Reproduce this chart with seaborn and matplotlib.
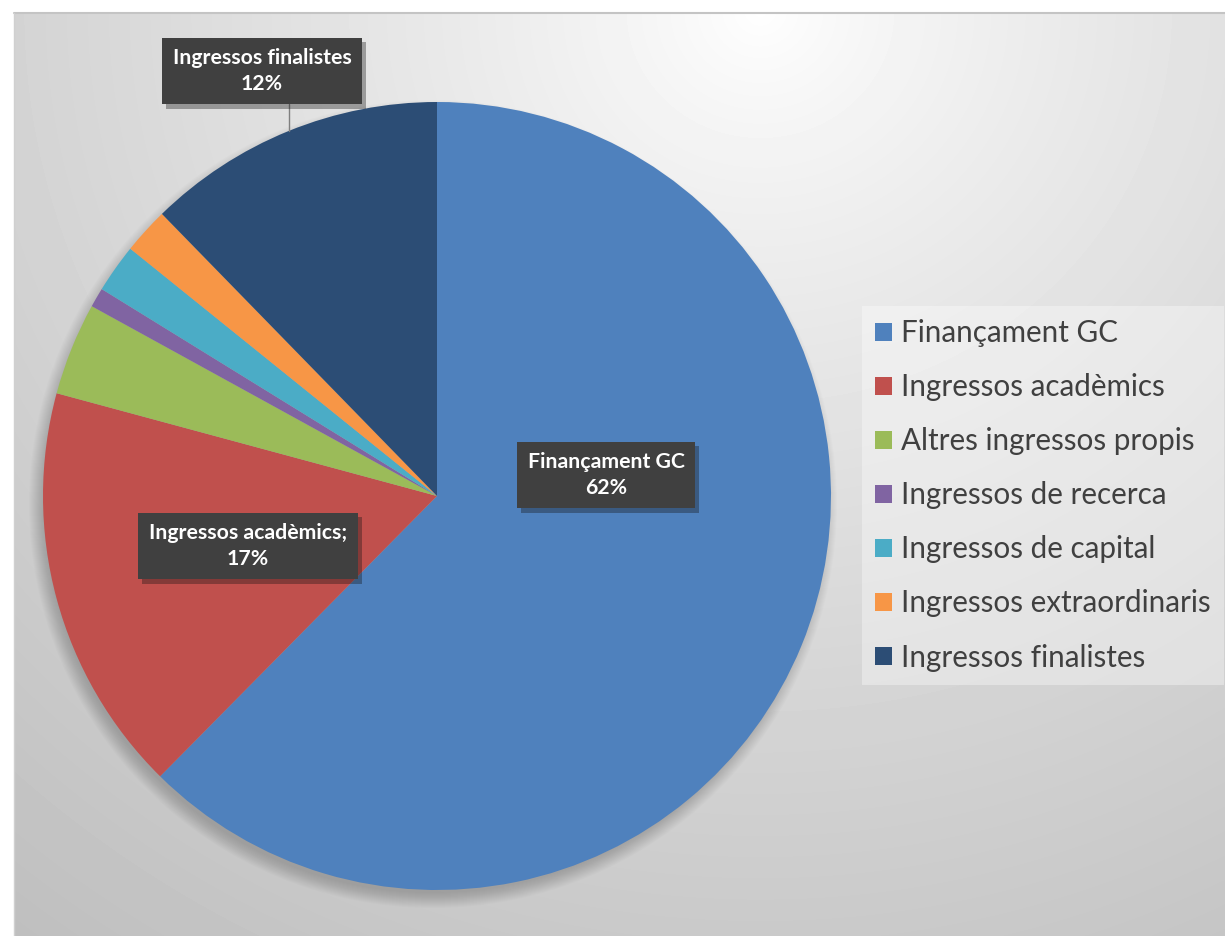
import matplotlib.pyplot as plt
import matplotlib.patheffects as pe
from matplotlib.patches import Patch, Circle
import numpy as np
import seaborn as sns

# data (shares of income, %)
categories = ["Finançament GC", "Ingressos acadèmics", "Altres ingressos propis",
              "Ingressos de recerca", "Ingressos de capital",
              "Ingressos extraordinaris", "Ingressos finalistes"]
shares = [62.4, 16.8, 3.8, 0.8, 2.0, 1.9, 12.3]
palette = ["#4F81BD", "#C0504D", "#9BBB59", "#8064A2", "#4BACC6", "#F79646", "#2C4D75"]
box_labels = {0: "Finançament GC\n62%", 1: "Ingressos acadèmics;\n17%", 6: "Ingressos finalistes\n12%"}

sns.set_theme(style="white")
plt.rcParams['font.family'] = ['Lato', 'DejaVu Sans']

W, H = 1225, 936
fig = plt.figure(figsize=(W / 100, H / 100), dpi=100)
fig.patch.set_facecolor("white")

# background gradient of the chart area
bg = fig.add_axes([14 / W, 0, (W - 14) / W, (H - 13) / H])
yy, xx = np.mgrid[13:H, 14:W]
d = np.sqrt((xx - 760.0) ** 2 + ((yy - 10.0) * 1.05) ** 2)
grad = 1 - 0.24 * (d / 1150) ** 0.8
bg.imshow(grad, cmap="gray", vmin=0, vmax=1, aspect="auto", interpolation="bilinear")
bg.set_axis_off()
fig.add_artist(plt.Line2D([14 / W, 1], [1 - 13 / H] * 2, color="#c4c4c4", lw=1.5))
fig.add_artist(plt.Line2D([14 / W] * 2, [0, 1 - 13 / H], color="#d0d0d0", lw=1))

ax = fig.add_axes([0, 0, 1, 1])
ax.patch.set_alpha(0)
cx, cy, r = 437, H - 496, 394

# soft shadow under the pie
for k in range(16):
    ax.add_patch(Circle((cx - 4, cy - 8), r + 10 - k, color="black", alpha=0.012, lw=0, zorder=0))

wedges, _ = ax.pie(shares, colors=sns.color_palette(palette), startangle=90, counterclock=False,
                   center=(cx, cy), radius=r, wedgeprops=dict(linewidth=0))
ax.set_xlim(0, W)
ax.set_ylim(0, H)
ax.set_axis_off()

label_pos = {0: (606, H - 475), 1: (248, H - 546), 6: (262, H - 71)}
for i, txt in box_labels.items():
    t = ax.text(*label_pos[i], txt, ha="center", va="center", color="white", fontsize=15.3,
                fontweight="bold", linespacing=1.35, zorder=5,
                bbox=dict(boxstyle="square,pad=0.5", fc="#404040", ec="none", lw=0))
    t.get_bbox_patch().set_path_effects([pe.withSimplePatchShadow(offset=(3, -3), alpha=0.35), pe.Normal()])

# leader line for the finalistes label
ax.plot([289, 289], [H - 104, H - 131], color="#7f7f7f", lw=1, zorder=4)

handles = [Patch(facecolor=c, edgecolor="none") for c in palette]
leg = fig.legend(handles, categories, loc="upper left", bbox_to_anchor=(862 / W, 1 - 306 / H),
                 fontsize=21.3, frameon=True, facecolor="white", edgecolor="none", framealpha=0.35,
                 handlelength=0.58, handleheight=0.58, handletextpad=0.3, labelspacing=0.88,
                 borderpad=0.45, borderaxespad=0, fancybox=False)
for t in leg.get_texts():
    t.set_color("#404040")

fig.savefig("out.png", dpi=100)
